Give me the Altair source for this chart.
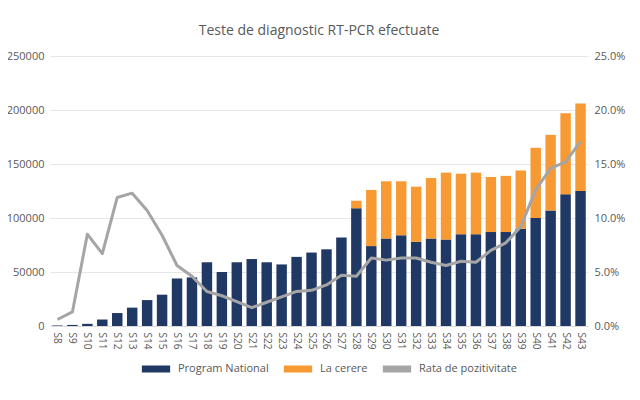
import altair as alt
import pandas as pd

weeks = [f"S{i}" for i in range(8, 44)]
program_national = [500, 1000, 2000, 6000, 12000, 17000, 24000, 29000, 44000, 45000,
                    59000, 50000, 59000, 62000, 59000, 57000, 64000, 68000, 71000, 82000,
                    109000, 74000, 81000, 84000, 78000, 81000, 80000, 85000, 85000, 87000,
                    87000, 90000, 100000, 107000, 122000, 125000]
la_cerere = [0, 0, 0, 0, 0, 0, 0, 0, 0, 0,
             0, 0, 0, 0, 0, 0, 0, 0, 0, 0,
             7000, 52000, 53000, 50000, 51000, 56000, 62000, 56000, 57000, 51000,
             52000, 54000, 65000, 70000, 75000, 81000]
rata_pozitivitate = [0.006, 0.013, 0.085, 0.067, 0.119, 0.123, 0.107, 0.084, 0.056, 0.046,
                     0.032, 0.028, 0.0225, 0.017, 0.022, 0.027, 0.032, 0.033, 0.038, 0.047,
                     0.046, 0.063, 0.061, 0.063, 0.063, 0.059, 0.056, 0.060, 0.059, 0.070,
                     0.077, 0.092, 0.126, 0.146, 0.152, 0.171]

series_names = ["Program National", "La cerere", "Rata de pozitivitate"]
series_colors = ["#203864", "#F79A33", "#A5A5A5"]

rows = []
for i, w in enumerate(weeks):
    rows.append({"week": w, "order": 0, "serie": "Program National", "val": program_national[i]})
    rows.append({"week": w, "order": 1, "serie": "La cerere", "val": la_cerere[i]})
bars_df = pd.DataFrame(rows)
line_df = pd.DataFrame({"week": weeks, "rate": rata_pozitivitate,
                        "serie": ["Rata de pozitivitate"] * len(weeks)})

font = "Open Sans"
gray_txt = "#595959"

color_scale = alt.Scale(domain=series_names, range=series_colors)
x_enc = alt.X("week:N", sort=weeks, title=None,
              scale=alt.Scale(paddingInner=0.3, paddingOuter=0.15),
              axis=alt.Axis(labelAngle=90, labelAlign="left", labelBaseline="middle",
                            ticks=False, domainColor="#D9D9D9", labelPadding=6,
                            labelFontSize=10, labelColor=gray_txt, labelFont=font))

bars = alt.Chart(bars_df).mark_bar().encode(
    x=x_enc,
    y=alt.Y("val:Q", stack="zero", title=None,
            scale=alt.Scale(domain=[0, 250000]),
            axis=alt.Axis(values=[0, 50000, 100000, 150000, 200000, 250000], format="d",
                          domain=False, ticks=False, gridColor="#E7E7E7",
                          labelFontSize=11, labelColor=gray_txt, labelFont=font,
                          labelPadding=6)),
    color=alt.Color("serie:N", scale=color_scale, title=None),
    order=alt.Order("order:Q"),
)

line = alt.Chart(line_df).mark_line(strokeWidth=3, strokeJoin="round").encode(
    x=alt.X("week:N", sort=weeks),
    y=alt.Y("rate:Q", title=None, scale=alt.Scale(domain=[0, 0.25]),
            axis=alt.Axis(orient="right", values=[0, 0.05, 0.1, 0.15, 0.2, 0.25], format=".1%",
                          domain=False, ticks=False, grid=False,
                          labelFontSize=11, labelColor=gray_txt, labelFont=font,
                          labelPadding=6)),
    color=alt.Color("serie:N", scale=color_scale, title=None),
)

chart = alt.layer(bars, line).resolve_scale(y="independent").properties(
    width=538, height=270,
    autosize=alt.AutoSizeParams(type="none"),
    padding={"left": 42, "top": 48, "right": 44, "bottom": 58},
    title=alt.TitleParams("Teste de diagnostic RT-PCR efectuate", fontSize=14,
                          fontWeight="normal", color=gray_txt, font=font,
                          anchor="middle", offset=12),
).configure_legend(
    orient="none", legendX=88, legendY=295, direction="horizontal", symbolType="stroke",
    symbolStrokeWidth=7, symbolSize=800, labelFontSize=11, labelColor=gray_txt,
    labelFont=font, columnPadding=0, labelOffset=4,
).configure_view(stroke=None)

chart.save("out.html", embed_options={"renderer": "svg", "actions": False})
